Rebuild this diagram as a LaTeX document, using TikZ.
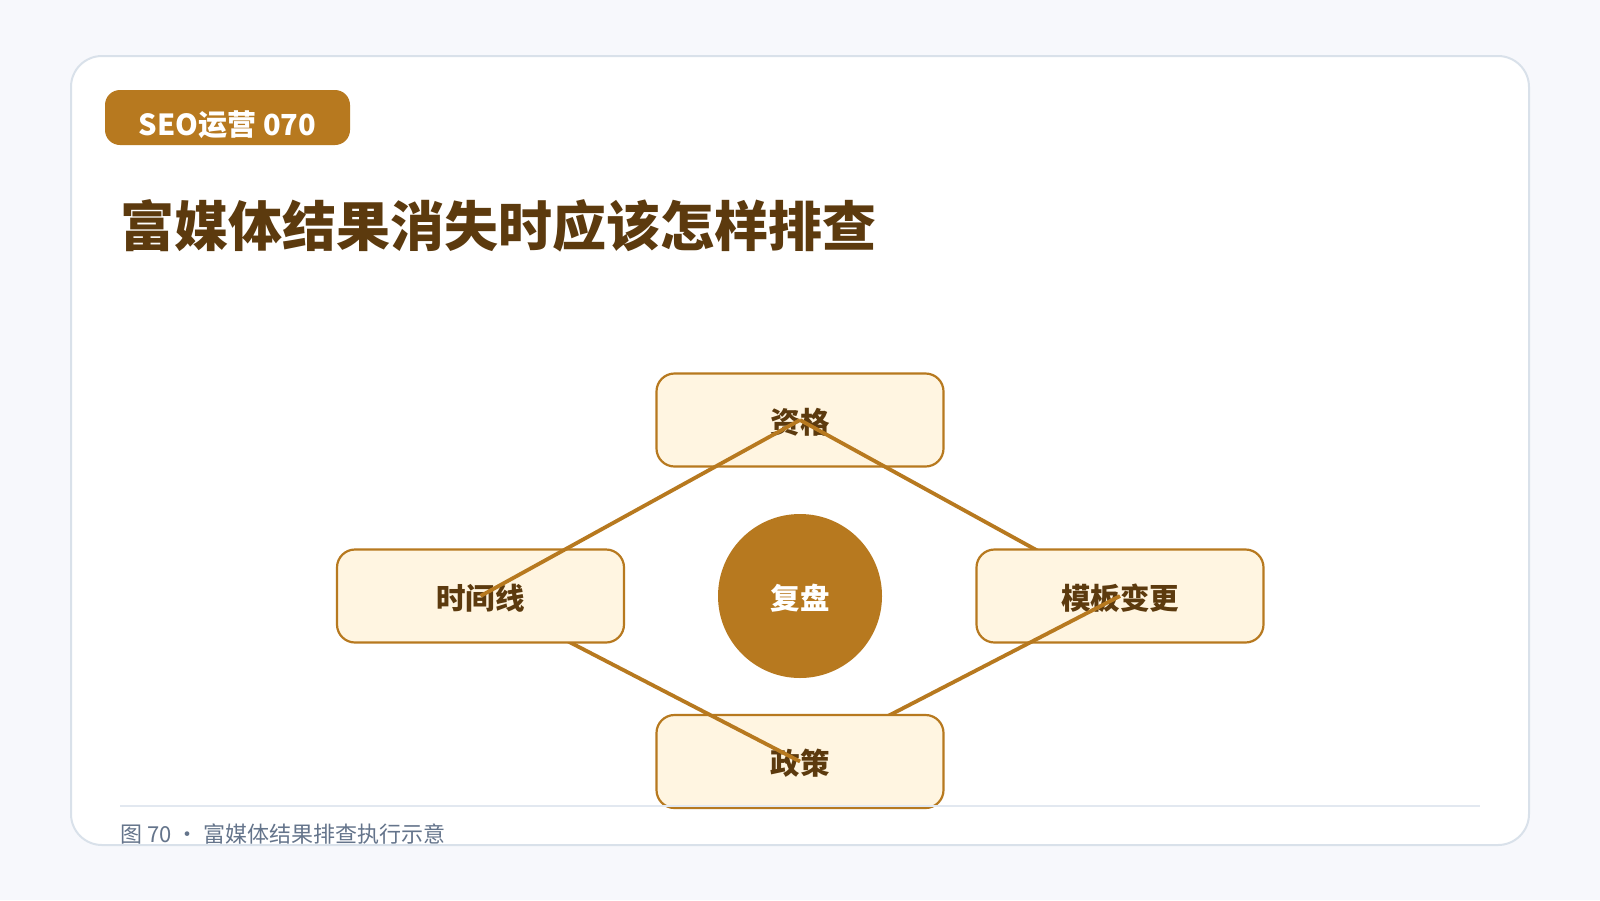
\documentclass[tikz,border=0pt]{standalone}
\usepackage{fontspec}
\setmainfont{Noto Sans CJK SC}
\definecolor{bgc}{HTML}{F7F8FC}
\definecolor{cardline}{HTML}{D9E1EA}
\definecolor{brownc}{HTML}{B7791F}
\definecolor{titlec}{HTML}{5C3A0E}
\definecolor{creamc}{HTML}{FFF5E1}
\definecolor{footc}{HTML}{E2E8F0}
\definecolor{capc}{HTML}{64748B}
\newcommand{\lowtext}[2]{\raisebox{-#1}[\height][\depth]{#2}}
\tikzset{
  card/.style={draw=cardline, fill=white, line width=2pt, rounded corners=31pt},
  tagbox/.style={fill=brownc, text=white, font=\fontsize{29}{32}\selectfont\bfseries, minimum width=245pt, minimum height=55pt, rounded corners=15pt, inner sep=0pt},
  titletext/.style={anchor=west, inner sep=0pt, text=titlec, font=\fontsize{54}{60}\selectfont\bfseries},
  stepbox/.style={draw=brownc, fill=creamc, line width=2.2pt, rounded corners=18pt, minimum width=287pt, minimum height=93pt, text=titlec, font=\fontsize{29.5}{34}\selectfont\bfseries},
  hub/.style={circle, fill=brownc, minimum size=164pt, inner sep=0pt, text=white, font=\fontsize{29.5}{34}\selectfont\bfseries},
  link/.style={draw=brownc, line width=3.8pt},
  footline/.style={draw=footc, line width=2pt},
  captext/.style={anchor=west, inner sep=0pt, text=capc, font=\fontsize{22}{26}\selectfont}
}
\begin{document}
\begin{tikzpicture}[x=1pt,y=-1pt]
\useasboundingbox (0,0) rectangle (1600,900);
\fill[bgc] (0,0) rectangle (1600,900);
\draw[card] (71,56) rectangle (1529,845);
\node[tagbox] (tag) at (227.5,117.5) {\lowtext{7pt}{SEO运营 070}};
\node[titletext] (title) at (120,226) {富媒体结果消失时应该怎样排查};
\node[hub] (hubc) at (800,596) {\lowtext{2pt}{复盘}};
\coordinate (czg) at (800,420);
\coordinate (csj) at (480.5,596);
\coordinate (cmb) at (1120,596);
\coordinate (czc) at (800,761.5);
\node[stepbox] (zg) at (czg) {\lowtext{2pt}{资格}};
\draw[link] (zg.center) -- (cmb);
\node[stepbox] (mb) at (cmb) {\lowtext{2pt}{模板变更}};
\draw[link] (mb.center) -- (czc);
\node[stepbox] (zc) at (czc) {\lowtext{2pt}{政策}};
\draw[link] (zc.center) -- (csj);
\node[stepbox] (sj) at (csj) {\lowtext{2pt}{时间线}};
\draw[link] (sj.center) -- (zg.center);
\coordinate (footL) at (120,806);
\coordinate (footR) at (1480,806);
\draw[footline] (footL) -- (footR);
\node[captext] (cap) at (120,834) {图 70 • 富媒体结果排查执行示意};
\end{tikzpicture}
\end{document}
